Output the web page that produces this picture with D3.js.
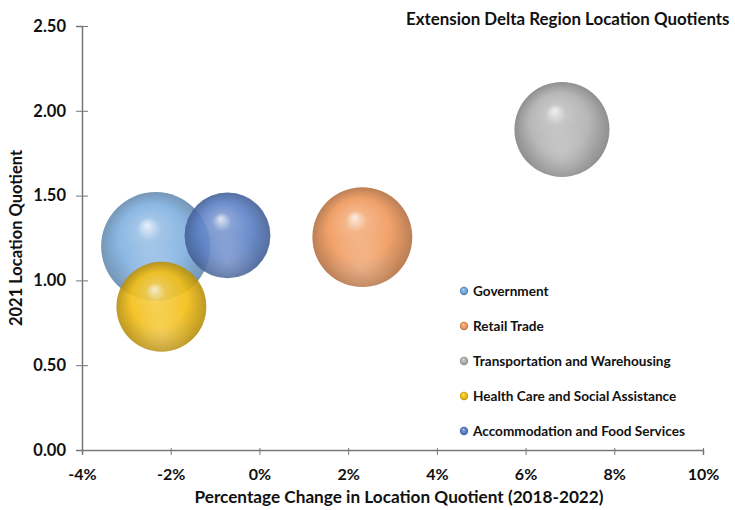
<!DOCTYPE html>
<html>
<head>
<meta charset="utf-8">
<script src="https://cdn.jsdelivr.net/npm/d3@7"></script>
<style>
  body { margin: 0; background: #fff; }
  text { font-family: Lato, "Open Sans", sans-serif; font-weight: bold; fill: #111; }
</style>
</head>
<body>
<div id="chart"></div>
<script>
// Series (one bubble each)
const industries = ["Government", "Retail Trade", "Transportation and Warehousing",
                    "Health Care and Social Assistance", "Accommodation and Food Services"];
const pctChange = [-0.0234, 0.0232, 0.0682, -0.0221, -0.0072];   // x
const lq2021 = [1.20, 1.255, 1.89, 0.845, 1.265];                 // y
const bubbleSize = [100, 84, 76, 68, 62];                         // relative size
const colors = ["#6fa6dc", "#f0985a", "#b0b0b0", "#f4be12", "#5b80c6"];
const xTicks = [-0.04, -0.02, 0, 0.02, 0.04, 0.06, 0.08, 0.10];
const yTicks = [0, 0.5, 1.0, 1.5, 2.0, 2.5];

const width = 735, height = 510;
const svg = d3.select("#chart").append("svg")
    .attr("width", width)
    .attr("height", height);

const x = d3.scaleLinear().domain([-0.04, 0.10]).range([82, 703]);
const y = d3.scaleLinear().domain([0, 2.5]).range([450, 26]);
const r = d3.scaleSqrt().domain([0, d3.max(bubbleSize)]).range([0, 54.5]);

// sphere-like gradients
const defs = svg.append("defs");
colors.forEach((c, i) => {
    const g = defs.append("radialGradient").attr("id", "ball" + i)
        .attr("cx", "50%").attr("cy", "50%").attr("r", "50%")
        .attr("fx", "42%").attr("fy", "30%");
    const base = d3.color(c);
    g.append("stop").attr("offset", "0%").attr("stop-color", d3.interpolateRgb(c, "#fff")(0.8));
    g.append("stop").attr("offset", "22%").attr("stop-color", d3.interpolateRgb(c, "#fff")(0.2));
    g.append("stop").attr("offset", "62%").attr("stop-color", base.formatHex());
    g.append("stop").attr("offset", "100%").attr("stop-color", base.darker(0.8).formatHex());
});
const glow = defs.append("radialGradient").attr("id", "glow")
    .attr("cx", "50%").attr("cy", "80%").attr("r", "35%");
glow.append("stop").attr("offset", "0%").attr("stop-color", "#fff").attr("stop-opacity", 0.22);
glow.append("stop").attr("offset", "100%").attr("stop-color", "#fff").attr("stop-opacity", 0);

const pct = d => d3.format(".0%")(d).replace("\u2212", "-");

// Axes
const xAxis = svg.append("g")
    .attr("transform", `translate(0,${y(0)})`)
    .call(d3.axisBottom(x).tickValues(xTicks).tickFormat(pct).tickSizeOuter(0).tickSize(5));
xAxis.select(".domain").attr("stroke", "#777").attr("stroke-width", 1.5);
xAxis.selectAll(".tick line").attr("stroke", "#777").attr("y1", -2);
xAxis.selectAll(".tick text").attr("dy", "1.4em").style("font-size", "16px");

const yAxis = svg.append("g")
    .attr("transform", `translate(${x(-0.04)},0)`)
    .call(d3.axisLeft(y).tickValues(yTicks).tickFormat(d3.format(".2f")).tickSizeOuter(0).tickSize(6));
yAxis.select(".domain").attr("stroke", "#777").attr("stroke-width", 1.5);
yAxis.selectAll(".tick line").attr("stroke", "#777").attr("x1", 6);
yAxis.selectAll(".tick text").attr("x", -16).style("font-size", "16.5px");
svg.selectAll(".tick text").attr("fill", "#111");

// Bubbles
const data = industries.map((name, i) => ({
    name, x: pctChange[i], y: lq2021[i], size: bubbleSize[i], i
}));
const bubbles = svg.append("g").selectAll("g")
    .data(data)
    .join("g")
    .attr("opacity", d => d.i === 0 ? 0.8 : 0.9);
bubbles.append("circle")
    .attr("cx", d => x(d.x))
    .attr("cy", d => y(d.y))
    .attr("r", d => r(d.size))
    .attr("fill", d => `url(#ball${d.i})`);
bubbles.append("circle")
    .attr("cx", d => x(d.x))
    .attr("cy", d => y(d.y))
    .attr("r", d => r(d.size))
    .attr("fill", "url(#glow)");

// Legend
const legend = svg.append("g")
    .selectAll("g")
    .data(data)
    .join("g")
    .attr("transform", (d, i) => `translate(464,${291 + i * 35})`);
legend.append("circle").attr("r", 4.2).attr("fill", d => `url(#ball${d.i})`);
legend.append("text")
    .attr("x", 9)
    .attr("dy", "0.35em")
    .style("font-size", "13.6px")
    .text(d => d.name);

// Titles
svg.append("text")
    .attr("x", 406).attr("y", 25)
    .style("font-size", "16.9px")
    .text("Extension Delta Region Location Quotients");

svg.append("text")
    .attr("x", 399).attr("y", 503)
    .attr("text-anchor", "middle")
    .style("font-size", "17.2px")
    .text("Percentage Change in Location Quotient (2018-2022)");

svg.append("text")
    .attr("transform", `translate(22,${(y(0) + y(2.5)) / 2}) rotate(-90)`)
    .attr("text-anchor", "middle")
    .style("font-size", "16.5px")
    .text("2021 Location Quotient");
</script>
</body>
</html>
